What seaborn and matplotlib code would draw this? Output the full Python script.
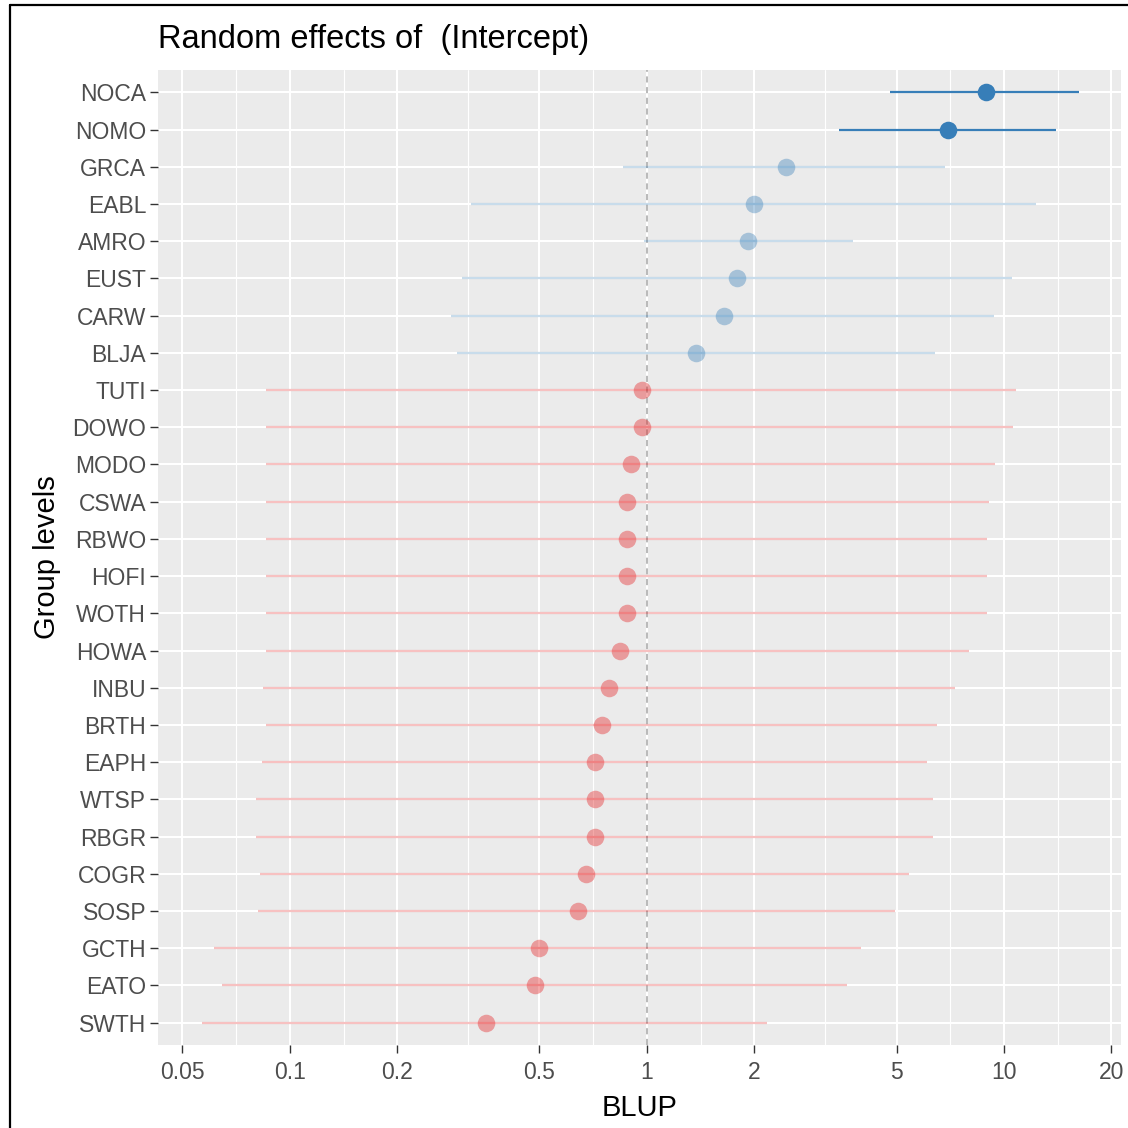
import numpy as np
import pandas as pd
import matplotlib
matplotlib.use("Agg")
import matplotlib.pyplot as plt
from matplotlib.lines import Line2D
from matplotlib.ticker import FixedLocator, NullFormatter
import seaborn as sns

# ---- data ----
groups = ["NOCA", "NOMO", "GRCA", "EABL", "AMRO", "EUST", "CARW", "BLJA",
          "TUTI", "DOWO", "MODO", "CSWA", "RBWO", "HOFI", "WOTH", "HOWA",
          "INBU", "BRTH", "EAPH", "WTSP", "RBGR", "COGR", "SOSP", "GCTH",
          "EATO", "SWTH"]
blup = [8.90, 6.97, 2.45, 1.99, 1.92, 1.79, 1.64, 1.37,
        0.968, 0.968, 0.902, 0.882, 0.882, 0.882, 0.882, 0.840,
        0.783, 0.748, 0.715, 0.715, 0.715, 0.673, 0.639, 0.498,
        0.486, 0.353]
ci_low = [4.79, 3.45, 0.857, 0.321, 0.981, 0.304, 0.282, 0.294,
          0.0857, 0.0857, 0.0857, 0.0857, 0.0857, 0.0857, 0.0857, 0.0857,
          0.084, 0.0857, 0.0837, 0.0803, 0.0803, 0.0824, 0.0813, 0.0612,
          0.0645, 0.0567]
ci_high = [16.2, 13.99, 6.83, 12.29, 3.78, 10.53, 9.38, 6.41,
           10.78, 10.6, 9.44, 9.08, 8.96, 8.96, 8.96, 7.98,
           7.29, 6.49, 6.09, 6.32, 6.32, 5.42, 4.95, 3.97,
           3.63, 2.17]
status = ["sig_pos", "sig_pos"] + ["pos"] * 6 + ["neg"] * 18
x_ticks = [0.05, 0.1, 0.2, 0.5, 1, 2, 5, 10, 20]
x_tick_labels = ["0.05", "0.1", "0.2", "0.5", "1", "2", "5", "10", "20"]

df = pd.DataFrame({"group": groups, "blup": blup, "lo": ci_low,
                   "hi": ci_high, "status": status})
df["pos"] = np.arange(len(df))

colors = {"sig_pos": "#377EB8", "pos": "#377EB8", "neg": "#E41A1C"}
pt_alpha = {"sig_pos": 1.0, "pos": 0.38, "neg": 0.38}
ln_alpha = {"sig_pos": 1.0, "pos": 0.27, "neg": 0.27}
ln_width = {"sig_pos": 1.6, "pos": 1.6, "neg": 1.6}

# ---- style ----
sns.set_theme(style="darkgrid", rc={
    "axes.facecolor": "#EBEBEB",
    "grid.color": "white",
    "axes.edgecolor": "none",
})
plt.rcParams["font.family"] = ["Liberation Sans", "DejaVu Sans"]

fig = plt.figure(figsize=(11.28, 11.28), dpi=100)
fig.patch.set_facecolor("white")
ax = fig.add_axes([158 / 1128, 1 - 1045 / 1128, (1121 - 158) / 1128, (1045 - 70) / 1128])

ax.set_xscale("log")
ax.set_xlim(0.0427, 21.27)
ax.set_ylim(len(df) - 1 + 0.6, -0.6)

# reference line at 1
ax.axvline(1, color="#A6A6A6", lw=1.1, ls=(0, (4, 3)), zorder=1.5)

# error bars
for st, sub in df.groupby("status"):
    ax.hlines(sub["pos"], sub["lo"], sub["hi"], color=colors[st],
              alpha=ln_alpha[st], lw=ln_width[st], zorder=2)

# points
for st, sub in df.groupby("status"):
    sns.scatterplot(data=sub, x="blup", y="pos", ax=ax, color=colors[st],
                    alpha=pt_alpha[st], s=160, linewidth=0, zorder=3,
                    legend=False)

# ticks & grid
ax.xaxis.set_major_locator(FixedLocator(x_ticks))
ax.set_xticklabels(x_tick_labels)
ax.xaxis.set_minor_locator(FixedLocator(np.sqrt(np.array(x_ticks[:-1]) * np.array(x_ticks[1:]))))
ax.xaxis.set_minor_formatter(NullFormatter())
ax.set_yticks(df["pos"])
ax.set_yticklabels(df["group"])
ax.grid(which="major", color="white", lw=1.5)
ax.grid(which="minor", axis="x", color="white", lw=0.8)
ax.set_axisbelow(True)
ax.tick_params(axis="both", which="major", length=5.5, width=1, color="#333333",
               labelsize=16.5, labelcolor="#4D4D4D", bottom=True, left=True)
ax.tick_params(axis="y", which="major", pad=3)
ax.tick_params(axis="x", which="major", pad=6)
ax.tick_params(axis="both", which="minor", length=0)

ax.set_xlabel("BLUP", fontsize=21, color="black", labelpad=7)
ax.set_ylabel("Group levels", fontsize=21, color="black", labelpad=8)
ax.set_title("Random effects of  (Intercept)", loc="left", fontsize=23.5,
             color="black", pad=16)

# screenshot frame (top and left edges)
fig.add_artist(Line2D([9.5 / 1128, 9.5 / 1128], [0, 1 - 4.5 / 1128],
                      transform=fig.transFigure, color="black", lw=1.6))
fig.add_artist(Line2D([9.5 / 1128, 1], [1 - 4.5 / 1128, 1 - 4.5 / 1128],
                      transform=fig.transFigure, color="black", lw=1.6))

fig.savefig("out.png", dpi=100)
